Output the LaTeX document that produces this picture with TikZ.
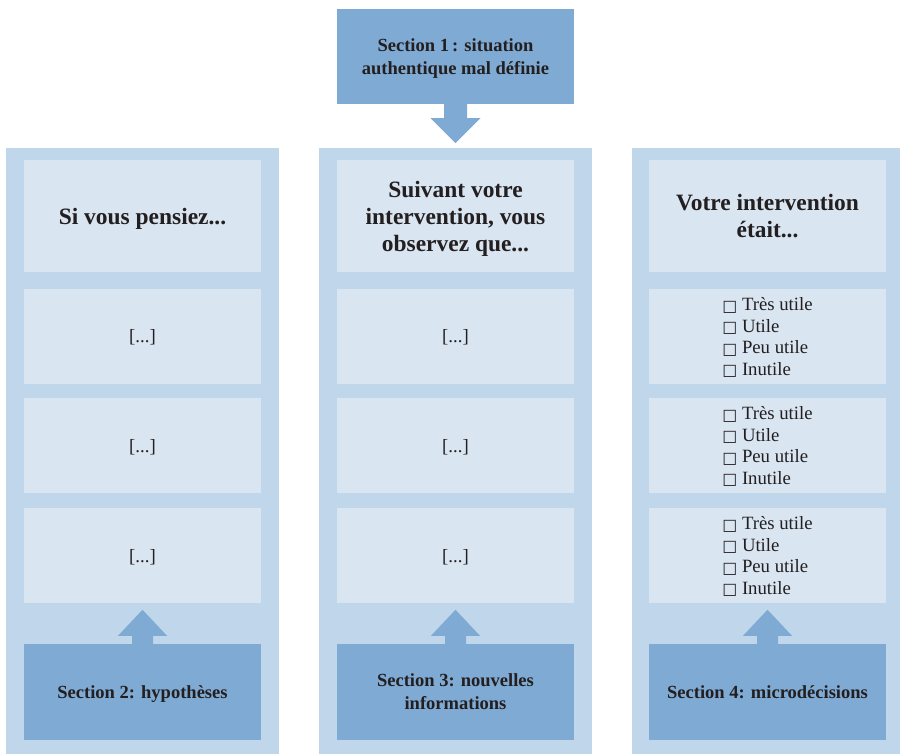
\documentclass[tikz,border=0pt]{standalone}
\usepackage{fontspec}
\setmainfont{Liberation Serif}
\newfontfamily\boxfont{DejaVu Sans}
\usetikzlibrary{calc}
\definecolor{secblue}{HTML}{7FAAD3}
\definecolor{colblue}{HTML}{C0D6EA}
\definecolor{cellblue}{HTML}{D9E5F1}
\definecolor{inkgray}{HTML}{231F20}
\newcommand{\chk}{\raisebox{-0.3pt}{\boxfont\fontsize{13.5}{13.5}\selectfont □}\hspace{0.25em}}
\tikzset{
  col/.style={fill=colblue, inner sep=0pt, minimum width=8.16cm, minimum height=18.18cm},
  cell/.style={fill=cellblue, inner sep=0pt, minimum width=7.11cm, minimum height=2.85cm, text depth=0pt, align=center, font=\fontsize{16}{18.3}\selectfont},
  head/.style={cell, minimum height=3.36cm, font=\bfseries\fontsize{20}{23}\selectfont},
  chklist/.style={cell, align=left},
  sect/.style={fill=secblue, inner sep=0pt, minimum width=7.11cm, minimum height=2.88cm, text depth=0pt, align=center, font=\bfseries\fontsize{15.8}{19.6}\selectfont}
}

\begin{document}
\begin{tikzpicture}[x=0.03cm, y=0.03cm, text=inkgray]
  \useasboundingbox (0,0) rectangle (900,754);
  \foreach \x/\n in {142.5/1,455.5/2,767.5/3}
    \node[col] (col\n) at (\x,303) {};
  \node[head] (h1) at (142.5,538) {Si vous pensiez...};
  \node[head] (h2) at (455.5,538) {Suivant votre\\intervention, vous\\observez que...};
  \node[head] (h3) at (767.5,538) {Votre intervention\\était...};
  \foreach \y/\r in {417.5/a,308.5/b,198.5/c} {
    \node[cell] (p\r) at (142.5,\y) {[...]};
    \node[cell] (o\r) at (455.5,\y) {[...]};
    \node[chklist] (m\r) at (767.5,\y) {\chk Très utile\\\chk Utile\\\chk Peu utile\\\chk Inutile};
  }
  \node[sect, minimum height=2.85cm] (s1) at (455.5,697.5) {Section 1\,: situation\\authentique mal définie};
  \node[sect] (s2) at (142.5,62) {Section 2: hypothèses};
  \node[sect] (s3) at (455.5,62) {Section 3: nouvelles\\informations};
  \node[sect] (s4) at (767.5,62) {Section 4: microdécisions};
  \fill[secblue] ($(s1.south)+(-11.5,0)$) -- ++(0,-14) -- ++(-13.5,0) -- ($(s1.south)+(0,-39)$)
    -- ++(25,25) -- ++(-13.5,0) -- ++(0,14) -- cycle;
  \foreach \n in {2,3,4}
    \fill[secblue] ($(s\n.north)+(-10.5,0)$) -- ++(0,8) -- ++(-14,0) -- ($(s\n.north)+(0,34)$)
      -- ++(24.5,-26) -- ++(-14,0) -- ++(0,-8) -- cycle;
\end{tikzpicture}
\end{document}
